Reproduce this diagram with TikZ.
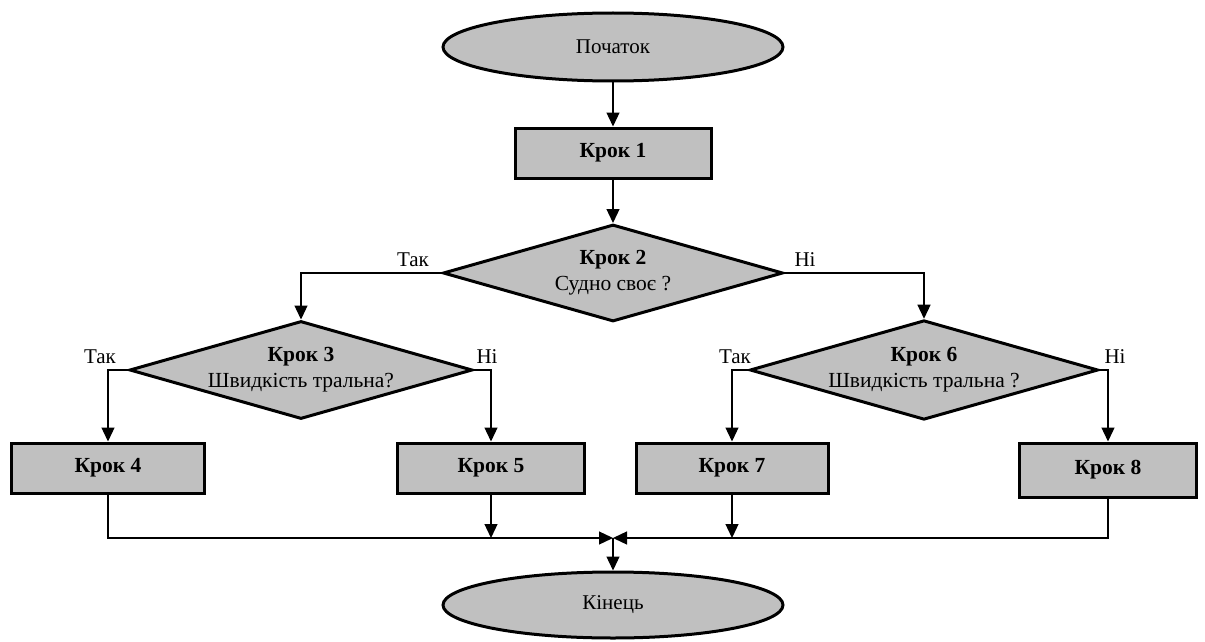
\documentclass[tikz,border=0pt]{standalone}
\usepackage{fontspec}
\setmainfont{Liberation Serif}
\usetikzlibrary{shapes.geometric,arrows.meta}
\definecolor{boxgray}{HTML}{C0C0C0}
\tikzset{
  term/.style={ellipse,draw=black,line width=3pt,fill=boxgray,minimum width=340pt,minimum height=68pt,inner sep=0pt,font=\fontsize{21}{24}\selectfont},
  stepbox/.style={rectangle,draw=black,line width=3pt,fill=boxgray,minimum height=50pt,inner sep=0pt,font=\fontsize{21.5}{24}\selectfont\bfseries},
  decide/.style={diamond,draw=black,line width=3pt,fill=boxgray,minimum width=340pt,minimum height=97pt,aspect=3.5,inner sep=0pt,align=center,font=\fontsize{21.5}{26}\selectfont},
  lbl/.style={font=\fontsize{21}{24}\selectfont,inner sep=0pt},
  conn/.style={line width=1.3pt,-{Triangle[length=14pt,width=13pt]}},
  plain/.style={line width=1.3pt}
}
\begin{document}
\begin{tikzpicture}[x=1pt,y=-1pt]
\useasboundingbox (0,0) rectangle (1205,642);
\node[term] (start) at (613,47) {Початок};
\node[stepbox,minimum width=196pt] (k1) at (613,153) {Крок 1};
\node[decide] (d2) at (613,273) {\textbf{Крок 2}\\Судно своє ?};
\node[decide,minimum width=337pt,minimum height=95pt] (d3) at (301,370) {\textbf{Крок 3}\\Швидкість тральна?};
\node[decide,minimum width=338pt,minimum height=95pt] (d6) at (924,370) {\textbf{Крок 6}\\Швидкість тральна ?};
\node[stepbox,minimum width=193pt] (k4) at (108,468) {Крок 4};
\node[stepbox,minimum width=187pt] (k5) at (491,468) {Крок 5};
\node[stepbox,minimum width=192pt] (k7) at (732,468) {Крок 7};
\node[stepbox,minimum width=177pt,minimum height=54pt] (k8) at (1108,470) {Крок 8};
\node[term,minimum height=66pt] (end) at (613,605) {Кінець};
\coordinate (m) at (613,538);
\node[lbl] (t2) at (413,260) {Так};
\node[lbl] (n2) at (805,260) {Ні};
\node[lbl] (t3) at (100,357) {Так};
\node[lbl] (n3) at (487,357) {Ні};
\node[lbl] (t6) at (735,357) {Так};
\node[lbl] (n6) at (1115,357) {Ні};
\draw[conn] (start) -- (k1);
\draw[conn] (k1) -- (d2);
\draw[conn] (d2.west) -| (d3.north);
\draw[conn] (d2.east) -| (d6.north);
\draw[conn] (d3.west) -| (k4.north);
\draw[conn] (d3.east) -| (k5.north);
\draw[conn] (d6.west) -| (k7.north);
\draw[conn] (d6.east) -| (k8.north);
\draw[conn] (k5.south) -- (k5.south |- m);
\draw[conn] (k7.south) -- (k7.south |- m);
\draw[conn] (k4.south) |- (m);
\draw[conn] (k8.south) |- (m);
\draw[conn] (m) -- (end.north);
\end{tikzpicture}
\end{document}
